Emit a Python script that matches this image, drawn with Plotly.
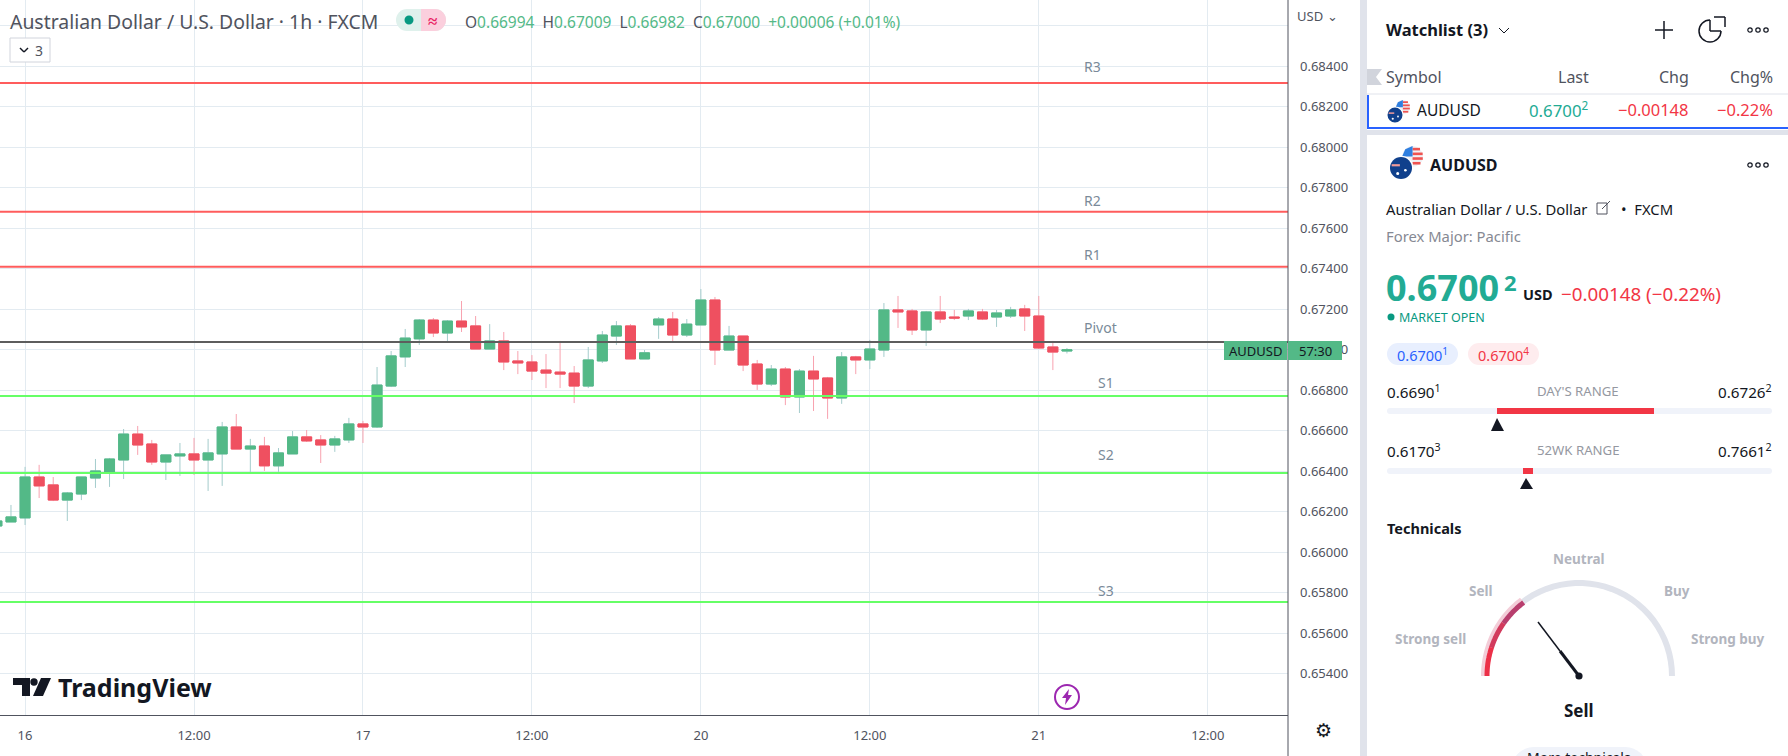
import numpy as np
import plotly.graph_objects as go

W, H = 1788, 756
FONT = "Noto Sans"

# hourly bars, index 0 = the "16" tick
bar_index = list(range(-2, 75))
opens = [.66130, .66150, .66170, .66372, .66333, .66258, .66288, .66367, .66397, .66456, .66584, .66535, .66446, .66476, .66486, .66456,
         .66486, .66619, .66510, .66525, .66427, .66486, .66570, .66555, .66530, .66555, .66634, .66619, .66821, .66965, .67054, .67147,
         .67083, .67142, .67118, .67004, .67044, .66945, .66940, .66900, .66890, .66885, .66821, .66945, .67068, .67118, .66955, .67123,
         .67152, .67073, .67123, .67246, .66999, .67068, .66930, .66831, .66905, .66767, .66895, .66861, .66762, .66965, .66950, .66999,
         .67197, .67192, .67098, .67187, .67162, .67167, .67187, .67162, .67167, .67202, .67167, .67014, .66994]
highs = [.66160, .66234, .66422, .66432, .66372, .66298, .66372, .66461, .66466, .66609, .66624, .66555, .66481, .66540, .66565, .66560,
         .66644, .66683, .66560, .66570, .66515, .66599, .66604, .66579, .66575, .66664, .66649, .66915, .66994, .67103, .67152, .67157,
         .67147, .67241, .67167, .67127, .67088, .66994, .66974, .66979, .67044, .66920, .67014, .67093, .67142, .67127, .66999, .67162,
         .67187, .67152, .67300, .67261, .67118, .67068, .66950, .66925, .66915, .66905, .66970, .66866, .66989, .66970, .67049, .67231,
         .67266, .67202, .67192, .67266, .67197, .67202, .67202, .67197, .67212, .67222, .67266, .67044, .67009]
lows = [.66125, .66150, .66135, .66268, .66253, .66155, .66258, .66318, .66323, .66362, .66481, .66432, .66357, .66377, .66382, .66303,
        .66328, .66510, .66387, .66402, .66397, .66486, .66545, .66441, .66496, .66540, .66540, .66614, .66816, .66915, .67024, .67063,
        .67034, .67088, .67004, .67004, .66900, .66880, .66851, .66811, .66811, .66737, .66811, .66935, .67024, .66955, .66955, .67054,
        .67034, .67063, .67123, .66925, .66999, .66895, .66802, .66821, .66727, .66688, .66698, .66659, .66733, .66880, .66905, .66965,
        .67108, .67073, .67019, .67132, .67147, .67147, .67147, .67113, .67157, .67093, .67004, .66900, .66982]
closes = [.66155, .66175, .66372, .66328, .66258, .66293, .66372, .66402, .66461, .66584, .66530, .66446, .66481, .66486, .66456, .66491,
          .66619, .66510, .66525, .66427, .66491, .66570, .66550, .66530, .66560, .66634, .66619, .66826, .66970, .67058, .67147, .67083,
          .67142, .67113, .67004, .67044, .66940, .66935, .66895, .66885, .66880, .66821, .66950, .67073, .67118, .66955, .66985, .67152,
          .67073, .67127, .67246, .66999, .67068, .66925, .66831, .66905, .66767, .66895, .66856, .66762, .66965, .66950, .67004, .67197,
          .67187, .67098, .67187, .67152, .67157, .67192, .67152, .67182, .67197, .67167, .67009, .66989, .67000]

level_names = ["R3", "R2", "R1", "Pivot", "S1", "S2", "S3"]
level_prices = [.68318, .67682, .67410, .67039, .66772, .66392, .65755]
level_colors = ["#ff5c5c", "#ff5c5c", "#ff5c5c", "#5d5d5d", "#66ff66", "#66ff66", "#66ff66"]
level_label_x = [1084, 1084, 1084, 1084, 1098, 1098, 1098]
level_label_y = [67, 201, 254, 327, 382, 454, 590]

time_ticks = [0, 12, 24, 36, 48, 60, 72, 84]
time_labels = ["16", "12:00", "17", "12:00", "20", "12:00", "21", "12:00"]
price_ticks = [.654, .656, .658, .660, .662, .664, .666, .668, .670, .672, .674, .676, .678, .680, .682, .684, .686]
price_labels = ["%.5f" % p for p in price_ticks[:-1]] + [""]


def px(x):
    return x / W


def py(y):
    return 1 - y / H


fig = go.Figure()

# wicks in the pale colour, then the bodies on top
fig.add_trace(go.Candlestick(x=bar_index, open=opens, high=highs, low=lows, close=closes, whiskerwidth=0,
                             increasing=dict(line=dict(color="#a4cccc", width=1), fillcolor="#53b987"),
                             decreasing=dict(line=dict(color="#f8a2af", width=1), fillcolor="#ef5060"),
                             showlegend=False))
body_hi = [max(o, c) for o, c in zip(opens, closes)]
body_lo = [min(o, c) for o, c in zip(opens, closes)]
fig.add_trace(go.Candlestick(x=bar_index, open=opens, high=body_hi, low=body_lo, close=closes, whiskerwidth=0,
                             increasing=dict(line=dict(color="#53b987", width=1), fillcolor="#53b987"),
                             decreasing=dict(line=dict(color="#ef5060", width=1), fillcolor="#ef5060"),
                             showlegend=False))

for price, color in zip(level_prices, level_colors):
    fig.add_hline(y=price, line=dict(color=color, width=2), layer="above")


def rect(x0, y0, x1, y1, fill, line=None, lw=0):
    fig.add_shape(type="rect", xref="paper", yref="paper", x0=px(x0), x1=px(x1), y0=py(y0), y1=py(y1),
                  fillcolor=fill, line=dict(color=line or fill, width=lw), layer="above")


def circle(cx, cy, r, fill, line=None, lw=0):
    fig.add_shape(type="circle", xref="paper", yref="paper", x0=px(cx - r), x1=px(cx + r), y0=py(cy - r), y1=py(cy + r),
                  fillcolor=fill, line=dict(color=line or fill, width=lw), layer="above")


def seg(x0, y0, x1, y1, color, lw=1):
    fig.add_shape(type="line", xref="paper", yref="paper", x0=px(x0), x1=px(x1), y0=py(y0), y1=py(y1),
                  line=dict(color=color, width=lw), layer="above")


def poly(points, fill):
    d = "M " + " L ".join("%.5f,%.5f" % (px(a), py(b)) for a, b in points) + " Z"
    fig.add_shape(type="path", xref="paper", yref="paper", path=d, fillcolor=fill, line=dict(color=fill, width=0), layer="above")


def pill(x0, y0, x1, y1, fill):
    r = (y1 - y0) / 2
    rect(x0 + r, y0, x1 - r, y1, fill)
    circle(x0 + r, y0 + r, r, fill)
    circle(x1 - r, y0 + r, r, fill)


def arc(cx, cy, r, a0, a1, color, lw):
    t = np.radians(np.linspace(a0, a1, 40))
    d = "M " + " L ".join("%.5f,%.5f" % (px(cx + r * np.cos(a)), py(cy - r * np.sin(a))) for a in t)
    fig.add_shape(type="path", xref="paper", yref="paper", path=d, line=dict(color=color, width=lw), layer="above")


def txt(x, y, s, size, color="#131722", anchor="left"):
    fig.add_annotation(xref="paper", yref="paper", x=px(x), y=py(y), text=s, showarrow=False, xanchor=anchor, yanchor="middle",
                       font=dict(family=FONT, size=size, color=color), borderpad=0, borderwidth=0)


# chart furniture
seg(1288, 0, 1288, 756, "#50535e", 1)
for name, x, y in zip(level_names, level_label_x, level_label_y):
    txt(x, y, name, 14, "#7a8a99")

txt(10, 22, "Australian Dollar / U.S. Dollar · 1h · FXCM", 19.4, "#50535e")
pill(396, 9, 446, 31, "#dff1ec")
circle(435, 20, 11, "#fbcfdd")
rect(421, 9, 435, 31, "#fbcfdd")
circle(409, 20, 4.5, "#089981")
txt(432, 20, "<b>≈</b>", 17, "#e91e63", "center")
g = "#53b987"
ohlc = ('O<span style="color:{g}">0.66994</span>  H<span style="color:{g}">0.67009</span>  L<span style="color:{g}">0.66982</span>  '
        'C<span style="color:{g}">0.67000</span>  <span style="color:{g}">+0.00006 (+0.01%)</span>').format(g=g)
txt(465, 22, ohlc, 15.5, "#50535e")
fig.add_shape(type="rect", xref="paper", yref="paper", x0=px(10), x1=px(50), y0=py(38), y1=py(62), fillcolor="#ffffff",
              line=dict(color="#d1d4dc", width=1), layer="above")
seg(20, 48, 24, 52, "#131722", 1.5)
seg(24, 52, 28, 48, "#131722", 1.5)
txt(35, 50, "3", 14, "#50535e")

# price tag
rect(1224, 341, 1287, 360, "#53b987")
rect(1288, 341, 1342, 360, "#53b987")
txt(1255, 351, "AUDUSD", 13, "#131722", "center")
txt(1315, 351, "57:30", 13, "#131722", "center")
txt(1317, 16, "USD ⌄", 13, "#50535e", "center")

# logo
poly([(13, 678), (30, 678), (30, 696), (22, 696), (22, 685), (13, 685)], "#131722")
circle(34, 682, 3.7, "#131722")
poly([(41, 678), (51, 678), (43, 696), (33, 696)], "#131722")
txt(58, 687, "<b>TradingView</b>", 25, "#131722")
circle(1067, 697, 12, "rgba(0,0,0,0)", "#9c27b0", 2)
poly([(1069, 689), (1062, 698), (1066, 698), (1065, 705), (1072, 695), (1068, 695)], "#9c27b0")
txt(1323, 730, "⚙", 19, "#131722", "center")

# right panel
rect(1360, 0, 1367, 756, "#e0e3eb")
rect(1367, 130, 1788, 135, "#e0e3eb")
seg(1367, 94, 1788, 94, "#e0e3eb", 1)
rect(1367, 95, 1369, 129, "#2962ff")
rect(1367, 127, 1788, 129, "#2962ff")
poly([(1367, 69), (1382, 69), (1376, 77), (1382, 85), (1367, 85)], "#d1d4dc")
txt(1386, 30, "<b>Watchlist (3)</b>", 16.5)
seg(1499, 28, 1504, 33, "#131722", 1)
seg(1504, 33, 1509, 28, "#131722", 1)
seg(1664, 21, 1664, 39, "#131722", 1.5)
seg(1655, 30, 1673, 30, "#131722", 1.5)
circle(1710, 31, 11, "rgba(0,0,0,0)", "#131722", 1.5)
poly([(1710, 19), (1724, 17), (1723, 31), (1710, 31)], "#ffffff")
seg(1710, 31, 1710, 20, "#131722", 1.5)
seg(1710, 31, 1721, 31, "#131722", 1.5)
seg(1714, 17, 1725, 17, "#131722", 1.5)
seg(1725, 17, 1725, 27, "#131722", 1.5)
for by in [30, 165]:
    for dx in [-8, 0, 8]:
        circle(1758 + dx, by, 2.2, "rgba(0,0,0,0)", "#131722", 1.2)

txt(1386, 77, "Symbol", 16, "#50535e")
txt(1589, 77, "Last", 16, "#50535e", "right")
txt(1689, 77, "Chg", 16, "#50535e", "right")
txt(1773, 77, "Chg%", 16, "#50535e", "right")
txt(1417, 110, "AUDUSD", 15.5)
txt(1589, 110, "0.6700<sup>2</sup>", 16.8, "#22ab94", "right")
txt(1689, 110, "−0.00148", 16.5, "#f23645", "right")
txt(1773, 110, "−0.22%", 16.5, "#f23645", "right")


def flags(cx, cy, r):
    ux, uy, ur = cx + 1.05 * r, cy - 1.05 * r, 0.95 * r
    circle(ux, uy, ur, "#f0f0f4")
    for k in [-0.7, -0.25, 0.2, 0.65]:
        dy = k * ur
        seg(ux, uy + dy, ux + np.sqrt(ur ** 2 - dy ** 2), uy + dy, "#ef5350", max(1, ur * 0.25))
    poly([(ux - 0.7 * ur, uy - 0.7 * ur), (ux, uy - ur), (ux, uy), (ux - ur, uy)], "#2f7fe0")
    circle(cx, cy, r * 1.12, "#ffffff")
    circle(cx, cy, r, "#10408c")
    poly([(cx - 0.85 * r, cy - 0.35 * r), (cx - 0.1 * r, cy - 0.35 * r), (cx - 0.1 * r, cy - 0.15 * r), (cx - 0.85 * r, cy - 0.15 * r)], "#ef9a9a")
    circle(cx + 0.4 * r, cy + 0.2 * r, 0.12 * r, "#ffffff")
    circle(cx - 0.3 * r, cy + 0.5 * r, 0.14 * r, "#ffffff")


flags(1395, 115, 7.5)
flags(1401, 168, 11)
txt(1430, 165, "<b>AUDUSD</b>", 16)
txt(1386, 209, "Australian Dollar / U.S. Dollar", 14.8)
fig.add_shape(type="rect", xref="paper", yref="paper", x0=px(1597), x1=px(1607), y0=py(203), y1=py(214), fillcolor="#ffffff",
              line=dict(color="#50535e", width=1), layer="above")
seg(1602, 209, 1610, 201, "#50535e", 1)
txt(1621, 209, "•  FXCM", 14.8)
txt(1386, 236, "Forex Major: Pacific", 14.8, "#868993")
txt(1386, 287, "<b>0.6700</b>", 36, "#22ab94")
txt(1510, 282, "<b>2</b>", 22, "#22ab94", "center")
txt(1523, 294, "<b>USD</b>", 14.5)
txt(1561, 294, "−0.00148 (−0.22%)", 18.8, "#f23645")
circle(1391, 317, 3.5, "#089981")
txt(1399, 317, "MARKET OPEN", 12.5, "#089981")
pill(1387, 343, 1458, 365, "#e8effe")
txt(1422, 354, "0.6700<sup>1</sup>", 14.5, "#2962ff", "center")
pill(1468, 343, 1539, 365, "#feecee")
txt(1503, 354, "0.6700<sup>4</sup>", 14.5, "#f23645", "center")

txt(1387, 391, "0.6690<sup>1</sup>", 15.2)
txt(1578, 391, "DAY'S RANGE", 13.2, "#9598a1", "center")
txt(1772, 391, "0.6726<sup>2</sup>", 15.2, "#131722", "right")
pill(1387, 408, 1772, 414, "#f0f3fa")
rect(1497, 408, 1654, 414, "#f23645")
poly([(1491, 431), (1497, 418), (1504, 431)], "#131722")
txt(1387, 450, "0.6170<sup>3</sup>", 15.2)
txt(1578, 450, "52WK RANGE", 13.2, "#9598a1", "center")
txt(1772, 450, "0.7661<sup>2</sup>", 15.2, "#131722", "right")
pill(1387, 468, 1772, 474, "#f0f3fa")
rect(1523, 468, 1533, 474, "#f23645")
poly([(1520, 489), (1526, 478), (1533, 489)], "#131722")
txt(1387, 528, "<b>Technicals</b>", 14.5)

# gauge
gcx, gcy, gr = 1579, 676, 93
arc(gcx, gcy, gr, 0, 180, "#e0e3eb", 6)
arc(gcx, gcy, gr + 1, 127, 180, "#f3cdd8", 8)
arc(gcx, gcy, gr - 1, 127, 145, "#b83f6e", 5)
arc(gcx, gcy, gr - 1, 145, 162, "#d23a5c", 5)
arc(gcx, gcy, gr - 1, 162, 180, "#ec3048", 5)
seg(1538, 622, 1560, 651, "#131722", 1.5)
seg(1560, 651, 1579, 676, "#131722", 3)
circle(gcx, gcy, 3.6, "#131722")
txt(1579, 559, "<b>Neutral</b>", 13.5, "#b2b5be", "center")
txt(1481, 591, "<b>Sell</b>", 13.5, "#b2b5be", "center")
txt(1677, 591, "<b>Buy</b>", 13.5, "#b2b5be", "center")
txt(1430, 639, "<b>Strong sell</b>", 13.5, "#b2b5be", "center")
txt(1728, 639, "<b>Strong buy</b>", 13.5, "#b2b5be", "center")
txt(1579, 710, "<b>Sell</b>", 17, "#131722", "center")
pill(1512, 747, 1647, 790, "#f0f3fa")
txt(1579, 758, "More technicals", 14, "#131722", "center")

fig.update_layout(
    width=W, height=H, margin=dict(l=0, r=0, t=0, b=0), paper_bgcolor="#ffffff", plot_bgcolor="#ffffff",
    showlegend=False, dragmode=False, boxgap=0.1, boxgroupgap=0.21,
    xaxis=dict(domain=[0, 1288 / W], range=[-1.78, 89.7], rangeslider=dict(visible=False), tickmode="array",
               tickvals=time_ticks, ticktext=time_labels, showgrid=True, gridcolor="#e3ebf1", gridwidth=1,
               zeroline=False, showline=True, linecolor="#50535e", linewidth=1, ticks="", ticklabelstandoff=8,
               tickfont=dict(family=FONT, size=13, color="#50535e"), automargin=False),
    yaxis=dict(domain=[py(715), 1], range=[.651967, .687274], side="right", tickmode="array",
               tickvals=price_ticks, ticktext=price_labels, showgrid=True, gridcolor="#e3ebf1", gridwidth=1,
               zeroline=False, showline=False, ticks="", ticklabelstandoff=11,
               tickfont=dict(family=FONT, size=13, color="#50535e"), automargin=False),
)

fig.write_html("out.html", config={"displayModeBar": False},
               post_script="document.body.style.margin='0';document.body.style.overflow='hidden';")
